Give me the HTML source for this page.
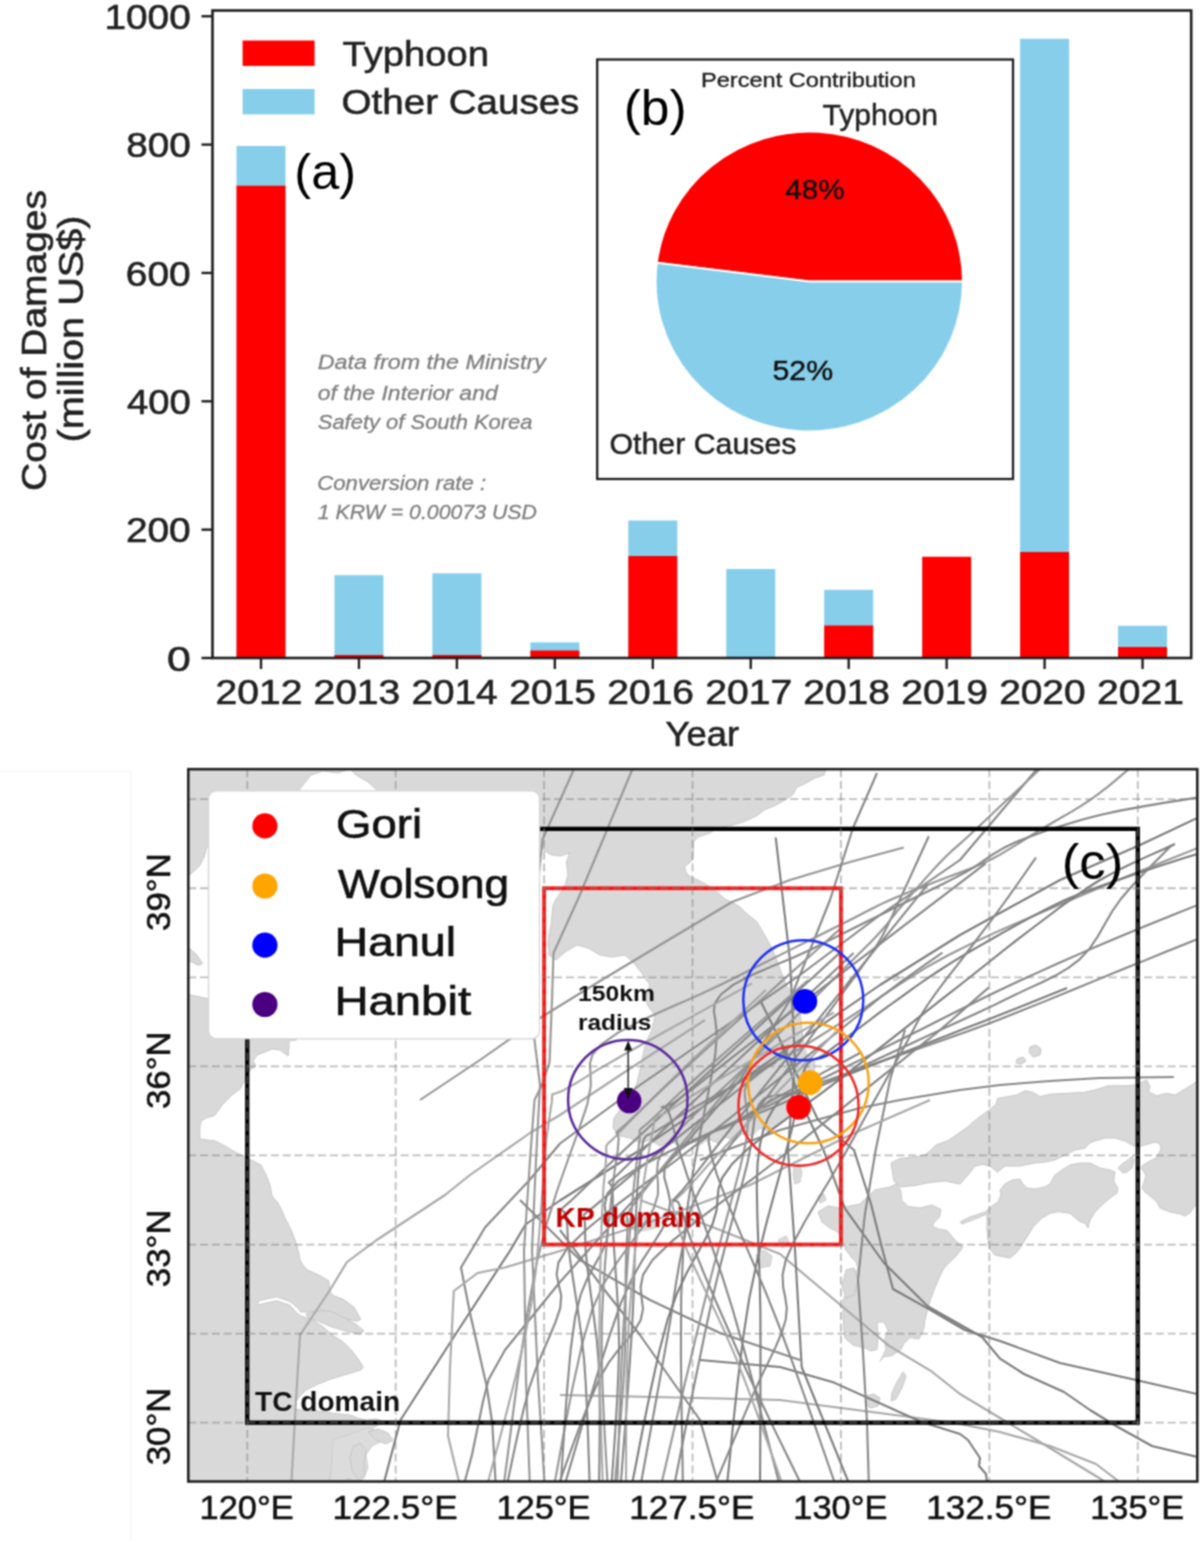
<!DOCTYPE html>
<html><head><meta charset="utf-8"><style>
html,body{margin:0;padding:0;background:#fff;}
svg{display:block;font-family:"Liberation Sans",sans-serif;}
</style></head><body>
<svg width="1200" height="1541" viewBox="0 0 1200 1541">
<defs><filter id="soft" filterUnits="userSpaceOnUse" x="0" y="0" width="1200" height="1541" color-interpolation-filters="sRGB"><feConvolveMatrix order="3" kernelMatrix="1 2 1 2 4 2 1 2 1" divisor="16" edgeMode="duplicate"/></filter></defs>
<g filter="url(#soft)">
<rect width="1200" height="1541" fill="#fff"/>
<rect x="236.50" y="146.00" width="49.0" height="512.00" fill="#87ceeb"/>
<rect x="236.50" y="185.70" width="49.0" height="472.30" fill="#ff0000"/>
<rect x="334.45" y="575.20" width="49.0" height="82.80" fill="#87ceeb"/>
<rect x="334.45" y="655.00" width="49.0" height="3.00" fill="#ff0000"/>
<rect x="432.40" y="573.30" width="49.0" height="84.70" fill="#87ceeb"/>
<rect x="432.40" y="655.00" width="49.0" height="3.00" fill="#ff0000"/>
<rect x="530.35" y="642.40" width="49.0" height="15.60" fill="#87ceeb"/>
<rect x="530.35" y="650.50" width="49.0" height="7.50" fill="#ff0000"/>
<rect x="628.30" y="520.50" width="49.0" height="137.50" fill="#87ceeb"/>
<rect x="628.30" y="556.00" width="49.0" height="102.00" fill="#ff0000"/>
<rect x="726.25" y="569.00" width="49.0" height="89.00" fill="#87ceeb"/>
<rect x="824.20" y="589.80" width="49.0" height="68.20" fill="#87ceeb"/>
<rect x="824.20" y="625.50" width="49.0" height="32.50" fill="#ff0000"/>
<rect x="922.15" y="556.75" width="49.0" height="101.25" fill="#ff0000"/>
<rect x="1020.10" y="38.75" width="49.0" height="619.25" fill="#87ceeb"/>
<rect x="1020.10" y="552.00" width="49.0" height="106.00" fill="#ff0000"/>
<rect x="1118.05" y="625.75" width="49.0" height="32.25" fill="#87ceeb"/>
<rect x="1118.05" y="647.00" width="49.0" height="11.00" fill="#ff0000"/>
<rect x="597.2" y="59.5" width="415.8" height="419.5" fill="#fff" stroke="#1e1e1e" stroke-width="2.3"/>
<rect x="212.5" y="10.5" width="978.70" height="647.50" fill="none" stroke="#1e1e1e" stroke-width="2.6"/>
<line x1="201.5" y1="658.00" x2="212.5" y2="658.00" stroke="#1e1e1e" stroke-width="2.4"/>
<text x="167.08" y="670.60" font-size="35.5" font-weight="normal" font-style="normal" fill="#222" stroke="#222" stroke-width="0.59" textLength="23.79" lengthAdjust="spacingAndGlyphs">0</text>
<line x1="201.5" y1="529.65" x2="212.5" y2="529.65" stroke="#1e1e1e" stroke-width="2.4"/>
<text x="125.90" y="542.25" font-size="35.5" font-weight="normal" font-style="normal" fill="#222" stroke="#222" stroke-width="0.59" textLength="64.82" lengthAdjust="spacingAndGlyphs">200</text>
<line x1="201.5" y1="401.30" x2="212.5" y2="401.30" stroke="#1e1e1e" stroke-width="2.4"/>
<text x="126.97" y="413.90" font-size="35.5" font-weight="normal" font-style="normal" fill="#222" stroke="#222" stroke-width="0.59" textLength="63.72" lengthAdjust="spacingAndGlyphs">400</text>
<line x1="201.5" y1="272.95" x2="212.5" y2="272.95" stroke="#1e1e1e" stroke-width="2.4"/>
<text x="125.88" y="285.55" font-size="35.5" font-weight="normal" font-style="normal" fill="#222" stroke="#222" stroke-width="0.59" textLength="64.84" lengthAdjust="spacingAndGlyphs">600</text>
<line x1="201.5" y1="144.60" x2="212.5" y2="144.60" stroke="#1e1e1e" stroke-width="2.4"/>
<text x="126.17" y="157.20" font-size="35.5" font-weight="normal" font-style="normal" fill="#222" stroke="#222" stroke-width="0.59" textLength="64.54" lengthAdjust="spacingAndGlyphs">800</text>
<line x1="201.5" y1="16.25" x2="212.5" y2="16.25" stroke="#1e1e1e" stroke-width="2.4"/>
<text x="104.45" y="28.85" font-size="35.5" font-weight="normal" font-style="normal" fill="#222" stroke="#222" stroke-width="0.59" textLength="86.27" lengthAdjust="spacingAndGlyphs">1000</text>
<line x1="261.00" y1="658.0" x2="261.00" y2="669" stroke="#1e1e1e" stroke-width="2.4"/>
<text x="215.53" y="703.80" font-size="35.5" font-weight="normal" font-style="normal" fill="#222" stroke="#222" stroke-width="0.59" textLength="86.93" lengthAdjust="spacingAndGlyphs">2012</text>
<line x1="358.95" y1="658.0" x2="358.95" y2="669" stroke="#1e1e1e" stroke-width="2.4"/>
<text x="313.49" y="703.80" font-size="35.5" font-weight="normal" font-style="normal" fill="#222" stroke="#222" stroke-width="0.59" textLength="86.67" lengthAdjust="spacingAndGlyphs">2013</text>
<line x1="456.90" y1="658.0" x2="456.90" y2="669" stroke="#1e1e1e" stroke-width="2.4"/>
<text x="411.45" y="703.80" font-size="35.5" font-weight="normal" font-style="normal" fill="#222" stroke="#222" stroke-width="0.59" textLength="86.08" lengthAdjust="spacingAndGlyphs">2014</text>
<line x1="554.85" y1="658.0" x2="554.85" y2="669" stroke="#1e1e1e" stroke-width="2.4"/>
<text x="509.39" y="703.80" font-size="35.5" font-weight="normal" font-style="normal" fill="#222" stroke="#222" stroke-width="0.59" textLength="86.59" lengthAdjust="spacingAndGlyphs">2015</text>
<line x1="652.80" y1="658.0" x2="652.80" y2="669" stroke="#1e1e1e" stroke-width="2.4"/>
<text x="607.34" y="703.80" font-size="35.5" font-weight="normal" font-style="normal" fill="#222" stroke="#222" stroke-width="0.59" textLength="86.67" lengthAdjust="spacingAndGlyphs">2016</text>
<line x1="750.75" y1="658.0" x2="750.75" y2="669" stroke="#1e1e1e" stroke-width="2.4"/>
<text x="705.28" y="703.80" font-size="35.5" font-weight="normal" font-style="normal" fill="#222" stroke="#222" stroke-width="0.59" textLength="86.93" lengthAdjust="spacingAndGlyphs">2017</text>
<line x1="848.70" y1="658.0" x2="848.70" y2="669" stroke="#1e1e1e" stroke-width="2.4"/>
<text x="803.24" y="703.80" font-size="35.5" font-weight="normal" font-style="normal" fill="#222" stroke="#222" stroke-width="0.59" textLength="86.65" lengthAdjust="spacingAndGlyphs">2018</text>
<line x1="946.65" y1="658.0" x2="946.65" y2="669" stroke="#1e1e1e" stroke-width="2.4"/>
<text x="901.19" y="703.80" font-size="35.5" font-weight="normal" font-style="normal" fill="#222" stroke="#222" stroke-width="0.59" textLength="86.81" lengthAdjust="spacingAndGlyphs">2019</text>
<line x1="1044.60" y1="658.0" x2="1044.60" y2="669" stroke="#1e1e1e" stroke-width="2.4"/>
<text x="999.15" y="703.80" font-size="35.5" font-weight="normal" font-style="normal" fill="#222" stroke="#222" stroke-width="0.59" textLength="86.47" lengthAdjust="spacingAndGlyphs">2020</text>
<line x1="1142.55" y1="658.0" x2="1142.55" y2="669" stroke="#1e1e1e" stroke-width="2.4"/>
<text x="1097.09" y="703.80" font-size="35.5" font-weight="normal" font-style="normal" fill="#222" stroke="#222" stroke-width="0.59" textLength="86.87" lengthAdjust="spacingAndGlyphs">2021</text>
<text x="665.43" y="745.50" font-size="35.5" font-weight="normal" font-style="normal" fill="#222" stroke="#222" stroke-width="0.59" textLength="73.64" lengthAdjust="spacingAndGlyphs">Year</text>
<text transform="translate(45.50,489.00) rotate(-90)" x="-1.98" y="0" font-size="35.5" font-weight="normal" fill="#222" stroke="#222" stroke-width="0.6" textLength="300.99" lengthAdjust="spacingAndGlyphs">Cost of Damages</text>
<text transform="translate(83.00,440.00) rotate(-90)" x="-2.46" y="0" font-size="35.5" font-weight="normal" fill="#222" stroke="#222" stroke-width="0.6" textLength="226.92" lengthAdjust="spacingAndGlyphs">(million US$)</text>
<rect x="242.6" y="40.5" width="72" height="25.4" fill="#ff0000"/>
<rect x="242.6" y="89.0" width="72" height="25.4" fill="#87ceeb"/>
<text x="342.56" y="66.30" font-size="35.5" font-weight="normal" font-style="normal" fill="#222" stroke="#222" stroke-width="0.59" textLength="146.39" lengthAdjust="spacingAndGlyphs">Typhoon</text>
<text x="341.57" y="113.60" font-size="35.5" font-weight="normal" font-style="normal" fill="#222" stroke="#222" stroke-width="0.59" textLength="237.82" lengthAdjust="spacingAndGlyphs">Other Causes</text>
<text x="294.37" y="188.80" font-size="50.5" font-weight="normal" font-style="normal" fill="#000" textLength="61.66" lengthAdjust="spacingAndGlyphs">(a)</text>
<text x="623.70" y="124.60" font-size="50.5" font-weight="normal" font-style="normal" fill="#000" textLength="62.99" lengthAdjust="spacingAndGlyphs">(b)</text>
<text x="317.68" y="369.30" font-size="20" font-weight="normal" font-style="italic" fill="#7f7f7f" stroke="#7f7f7f" stroke-width="0.3" textLength="228.14" lengthAdjust="spacingAndGlyphs">Data from the Ministry</text>
<text x="317.65" y="399.60" font-size="20" font-weight="normal" font-style="italic" fill="#7f7f7f" stroke="#7f7f7f" stroke-width="0.3" textLength="180.05" lengthAdjust="spacingAndGlyphs">of the Interior and</text>
<text x="317.78" y="428.80" font-size="20" font-weight="normal" font-style="italic" fill="#7f7f7f" stroke="#7f7f7f" stroke-width="0.3" textLength="214.77" lengthAdjust="spacingAndGlyphs">Safety of South Korea</text>
<text x="317.18" y="489.50" font-size="20" font-weight="normal" font-style="italic" fill="#7f7f7f" stroke="#7f7f7f" stroke-width="0.3" textLength="169.01" lengthAdjust="spacingAndGlyphs">Conversion rate :</text>
<text x="317.85" y="518.80" font-size="20" font-weight="normal" font-style="italic" fill="#7f7f7f" stroke="#7f7f7f" stroke-width="0.3" textLength="219.03" lengthAdjust="spacingAndGlyphs">1 KRW = 0.00073 USD</text>
<path d="M809.3,281.5 L963.00,281.50 A153.7,150.0 0 0 0 656.81,262.70 Z" fill="#ff0000" stroke="#fff" stroke-width="2" stroke-linejoin="round"/>
<path d="M809.3,281.5 L656.81,262.70 A153.7,150.0 0 1 0 963.00,281.50 Z" fill="#87ceeb" stroke="#fff" stroke-width="2" stroke-linejoin="round"/>
<text x="701.07" y="87.00" font-size="21" font-weight="normal" font-style="normal" fill="#222" stroke="#222" stroke-width="0.35" textLength="214.76" lengthAdjust="spacingAndGlyphs">Percent Contribution</text>
<text x="822.63" y="124.60" font-size="29" font-weight="normal" font-style="normal" fill="#222" stroke="#222" stroke-width="0.48" textLength="115.29" lengthAdjust="spacingAndGlyphs">Typhoon</text>
<text x="785.32" y="199.30" font-size="28" font-weight="normal" font-style="normal" fill="#111" stroke="#111" stroke-width="0.46" textLength="59.23" lengthAdjust="spacingAndGlyphs">48%</text>
<text x="772.49" y="380.00" font-size="28" font-weight="normal" font-style="normal" fill="#111" stroke="#111" stroke-width="0.46" textLength="60.59" lengthAdjust="spacingAndGlyphs">52%</text>
<text x="609.46" y="454.00" font-size="29" font-weight="normal" font-style="normal" fill="#222" stroke="#222" stroke-width="0.48" textLength="187.03" lengthAdjust="spacingAndGlyphs">Other Causes</text>
<line x1="131" y1="771.5" x2="131" y2="1541" stroke="#f3f3f3" stroke-width="1.2"/>
<line x1="0" y1="771.5" x2="131" y2="771.5" stroke="#f3f3f3" stroke-width="1.2"/>
<defs><clipPath id="mc"><rect x="188.3" y="769.2" width="1009.0" height="712.3"/></clipPath></defs>
<g clip-path="url(#mc)">
<path d="M150.0,700.0 L826.0,700.0 L826.0,769.0 L824.0,775.0 L815.0,778.0 L804.5,784.0 L797.0,787.0 L792.5,795.0 L785.0,800.0 L776.0,805.0 L764.0,810.0 L758.0,815.0 L752.0,818.0 L743.0,822.0 L732.5,825.0 L717.5,828.0 L710.0,833.0 L698.0,837.0 L693.5,842.0 L693.5,850.0 L692.7,860.0 L689.0,863.0 L684.5,867.0 L686.0,872.0 L689.0,876.0 L698.0,880.0 L707.0,885.0 L714.5,890.0 L725.0,899.0 L733.0,903.0 L740.0,907.0 L745.0,912.0 L751.0,917.0 L757.0,922.0 L764.0,934.0 L772.0,948.0 L779.0,966.0 L786.0,985.0 L793.0,994.0 L799.0,1003.0 L801.0,1020.0 L803.0,1040.0 L806.0,1053.0 L811.0,1058.0 L815.0,1063.0 L814.0,1072.0 L812.0,1083.0 L808.0,1093.0 L803.0,1101.0 L798.0,1110.0 L790.0,1116.0 L784.0,1121.0 L776.0,1126.0 L768.0,1131.0 L760.0,1128.0 L752.0,1136.0 L742.0,1134.0 L735.0,1141.0 L726.0,1137.0 L718.0,1143.0 L708.0,1139.0 L700.0,1145.0 L690.0,1139.0 L680.0,1146.0 L670.0,1141.0 L660.0,1146.0 L650.0,1140.0 L640.0,1143.0 L630.0,1138.0 L620.0,1136.0 L613.0,1128.0 L614.0,1118.0 L620.0,1110.0 L627.0,1104.0 L632.0,1094.0 L637.0,1083.0 L640.0,1070.0 L643.0,1055.0 L646.0,1042.0 L652.0,1030.0 L655.0,1015.0 L648.0,1006.0 L645.0,998.0 L650.0,985.0 L641.0,972.0 L633.0,962.0 L625.0,955.0 L612.0,957.0 L600.0,955.0 L588.0,948.0 L577.0,945.0 L565.0,952.0 L556.0,960.0 L549.0,955.0 L548.0,940.0 L551.0,925.0 L553.0,905.0 L556.0,899.0 L560.5,893.0 L565.0,885.0 L568.0,875.0 L566.5,862.0 L569.5,853.0 L560.0,856.0 L551.5,855.0 L544.0,850.7 L540.0,846.0 L520.0,820.0 L400.0,800.0 L377.0,790.0 L368.0,782.0 L356.0,775.0 L350.0,769.0 L338.0,773.0 L323.0,771.0 L311.0,775.0 L299.0,790.0 L260.0,800.0 L210.0,840.0 L206.4,848.7 L204.5,856.0 L199.6,866.0 L190.8,874.0 L150.0,880.0 Z" fill="#d9d9d9" stroke="#c6c6c6" stroke-width="1.0" stroke-linejoin="round"/>
<path d="M150.0,945.0 L189.0,948.0 L196.7,954.7 L202.5,963.4 L198.6,965.4 L190.8,961.5 L150.0,962.0 Z" fill="#d9d9d9" stroke="#c6c6c6" stroke-width="1.0" stroke-linejoin="round"/>
<path d="M150.0,994.0 L188.0,994.6 L200.0,997.0 L215.0,1000.0 L260.0,995.0 L330.0,990.0 L400.0,975.0 L420.0,985.0 L380.0,1005.0 L330.0,1025.0 L300.0,1036.0 L296.0,1040.0 L289.0,1041.0 L289.0,1048.0 L288.0,1056.0 L280.0,1050.0 L272.0,1049.0 L265.0,1052.0 L257.0,1055.0 L253.0,1061.0 L256.0,1066.0 L250.0,1070.0 L245.0,1080.0 L240.0,1089.0 L232.0,1095.0 L223.0,1104.0 L214.5,1115.6 L206.0,1118.0 L201.0,1121.0 L199.8,1127.0 L199.8,1139.0 L207.0,1140.0 L214.5,1140.7 L225.0,1146.0 L235.0,1152.0 L245.0,1157.0 L253.0,1161.0 L261.0,1165.0 L266.0,1175.0 L270.0,1185.0 L272.0,1196.0 L278.0,1203.0 L282.0,1211.0 L285.0,1218.0 L289.0,1226.0 L292.0,1232.0 L295.0,1240.0 L297.0,1246.0 L299.0,1254.0 L300.0,1260.0 L303.0,1265.0 L307.3,1270.0 L319.3,1275.3 L328.7,1280.7 L330.0,1291.0 L332.7,1295.3 L343.3,1299.3 L354.0,1307.3 L360.7,1319.3 L356.7,1321.3 L343.3,1318.0 L330.0,1312.7 L322.0,1310.0 L310.0,1312.0 L300.7,1312.0 L298.0,1308.0 L290.0,1301.5 L276.7,1296.7 L267.3,1298.7 L258.0,1301.0 L258.0,1305.0 L267.3,1302.7 L276.7,1300.7 L290.0,1305.3 L296.0,1312.0 L300.7,1316.0 L312.7,1320.0 L322.0,1326.0 L332.7,1335.3 L343.3,1342.0 L351.3,1350.0 L359.3,1360.7 L363.3,1367.3 L360.7,1370.0 L343.3,1375.3 L330.0,1379.3 L316.7,1384.7 L306.0,1390.0 L300.0,1396.0 L296.7,1400.0 L293.3,1408.3 L300.0,1410.0 L316.7,1410.8 L333.3,1413.3 L350.0,1415.0 L358.3,1418.3 L366.7,1420.0 L376.7,1419.0 L383.3,1421.7 L375.0,1426.7 L366.7,1433.3 L358.3,1440.0 L350.0,1445.0 L336.7,1450.0 L331.7,1456.7 L333.3,1466.7 L330.0,1475.0 L328.3,1485.0 L330.0,1520.0 L150.0,1520.0 Z" fill="#d9d9d9" stroke="#c6c6c6" stroke-width="1.0" stroke-linejoin="round"/>
<path d="M306.0,1314.0 L318.0,1311.0 L330.0,1311.0 L345.0,1318.0 L357.0,1325.0 L364.0,1331.0 L360.0,1334.0 L346.0,1331.0 L332.0,1327.0 L318.0,1321.0 L308.0,1318.0 Z" fill="#d9d9d9" stroke="#c6c6c6" stroke-width="1.0" stroke-linejoin="round"/>
<path d="M333.0,1440.0 L345.0,1436.0 L356.0,1432.0 L368.0,1428.0 L380.0,1432.0 L384.0,1440.0 L372.0,1446.0 L366.0,1455.0 L368.0,1468.0 L364.0,1478.0 L356.0,1486.0 L330.0,1490.0 Z" fill="#dcdcdc" stroke="#cfcfcf" stroke-width="1.0" stroke-linejoin="round"/>
<path d="M353.0,1447.0 L360.0,1443.0 L366.0,1450.0 L364.0,1462.0 L365.0,1475.0 L358.0,1480.0 L352.0,1470.0 L350.0,1458.0 Z" fill="#d9d9d9" stroke="#c6c6c6" stroke-width="1.0" stroke-linejoin="round"/>
<path d="M368.0,1432.0 L378.0,1429.0 L388.0,1433.0 L393.0,1440.0 L386.0,1444.0 L376.0,1440.0 Z" fill="#d9d9d9" stroke="#c6c6c6" stroke-width="1.0" stroke-linejoin="round"/>
<path d="M340.0,1488.0 L348.0,1478.0 L356.0,1484.0 L352.0,1495.0 Z" fill="#d9d9d9" stroke="#c6c6c6" stroke-width="1.0" stroke-linejoin="round"/>
<path d="M622.0,1222.0 L632.0,1217.0 L648.0,1217.0 L660.0,1221.0 L656.0,1228.0 L642.0,1231.0 L628.0,1229.0 Z" fill="#dadada" stroke="#cfcfcf" stroke-width="1.0" stroke-linejoin="round"/>
<path d="M894.0,1181.0 L892.5,1172.0 L891.0,1163.0 L900.0,1158.5 L915.0,1157.0 L924.0,1155.5 L930.0,1151.0 L936.0,1145.0 L948.0,1140.5 L957.0,1134.5 L967.5,1127.0 L978.0,1118.0 L988.5,1110.5 L996.0,1104.5 L997.5,1098.5 L1016.7,1095.0 L1025.0,1090.8 L1033.3,1092.5 L1040.0,1096.7 L1050.0,1094.2 L1066.7,1093.3 L1083.3,1092.5 L1095.0,1090.0 L1108.3,1085.8 L1125.0,1085.8 L1135.0,1085.0 L1146.7,1080.0 L1150.0,1086.7 L1148.3,1091.7 L1156.7,1095.8 L1166.7,1093.3 L1175.0,1095.0 L1183.3,1090.0 L1191.7,1085.0 L1197.0,1081.0 L1260.0,1060.0 L1260.0,1200.0 L1200.0,1200.0 L1195.0,1206.0 L1190.0,1213.0 L1185.0,1216.0 L1180.0,1214.0 L1170.0,1212.0 L1160.0,1208.0 L1157.0,1202.0 L1150.0,1196.0 L1145.0,1192.0 L1142.0,1188.0 L1144.0,1182.0 L1146.0,1176.0 L1144.0,1172.0 L1141.0,1168.0 L1143.0,1165.0 L1150.0,1161.0 L1156.0,1158.0 L1159.0,1153.0 L1161.0,1149.0 L1160.0,1144.0 L1155.0,1142.0 L1145.0,1145.0 L1138.0,1147.0 L1132.0,1145.0 L1125.0,1141.0 L1115.0,1138.0 L1105.0,1138.0 L1095.0,1141.0 L1090.0,1143.0 L1085.0,1148.0 L1075.0,1150.0 L1065.0,1155.0 L1055.0,1160.0 L1045.0,1162.0 L1035.0,1163.0 L1020.0,1166.0 L1005.0,1166.0 L997.5,1172.0 L990.0,1166.0 L982.5,1164.5 L975.0,1166.0 L970.5,1172.0 L960.0,1184.0 L945.0,1181.0 L930.0,1182.5 L915.0,1185.5 L900.0,1187.0 Z" fill="#d9d9d9" stroke="#c6c6c6" stroke-width="1.0" stroke-linejoin="round"/>
<path d="M1118.0,1168.0 L1122.0,1164.0 L1128.0,1160.0 L1132.0,1156.0 L1134.0,1160.0 L1132.0,1168.0 L1127.0,1172.0 L1123.0,1173.0 Z" fill="#d9d9d9" stroke="#c6c6c6" stroke-width="1.0" stroke-linejoin="round"/>
<path d="M960.0,1222.0 L970.0,1217.0 L985.0,1212.0 L992.0,1206.0 L998.0,1202.0 L1001.0,1195.0 L1000.0,1190.0 L1005.0,1184.0 L1012.0,1180.0 L1020.0,1179.0 L1023.0,1184.0 L1027.0,1188.0 L1035.0,1189.0 L1045.0,1187.0 L1050.0,1184.0 L1055.0,1175.0 L1062.0,1170.0 L1070.0,1165.0 L1080.0,1163.0 L1090.0,1163.0 L1100.0,1168.0 L1110.0,1170.0 L1115.0,1172.0 L1114.0,1178.0 L1114.0,1182.0 L1118.0,1188.0 L1117.0,1193.0 L1110.0,1198.0 L1102.0,1205.0 L1095.0,1212.0 L1090.0,1220.0 L1088.0,1228.0 L1085.0,1223.0 L1080.0,1221.7 L1070.0,1213.3 L1058.3,1211.7 L1050.0,1213.3 L1041.7,1218.3 L1033.3,1226.7 L1028.3,1235.0 L1025.0,1240.0 L1020.0,1248.0 L1016.0,1253.0 L1010.0,1258.0 L1000.0,1256.0 L995.0,1255.0 L990.0,1249.0 L988.0,1240.0 L987.0,1230.0 L987.0,1214.0 L975.0,1219.0 L962.0,1224.0 Z" fill="#d9d9d9" stroke="#c6c6c6" stroke-width="1.0" stroke-linejoin="round"/>
<path d="M896.0,1184.0 L900.5,1190.0 L902.0,1200.5 L908.0,1206.5 L920.0,1208.0 L932.0,1205.0 L941.0,1209.5 L939.5,1217.0 L935.0,1221.5 L932.0,1226.0 L938.0,1229.0 L947.0,1230.5 L955.0,1240.0 L963.0,1247.0 L957.0,1255.0 L950.0,1262.0 L944.0,1268.0 L939.5,1277.0 L935.0,1287.5 L930.5,1299.5 L927.5,1310.0 L925.0,1320.0 L923.5,1330.0 L919.0,1339.0 L910.0,1337.5 L904.0,1343.5 L901.0,1349.5 L892.0,1355.5 L883.0,1357.0 L880.0,1361.5 L886.0,1349.5 L884.5,1340.5 L888.0,1330.0 L884.0,1322.0 L877.0,1322.0 L878.0,1335.0 L877.0,1349.5 L871.0,1351.0 L865.0,1348.0 L853.0,1345.0 L845.0,1338.0 L844.0,1330.0 L843.0,1315.0 L843.0,1300.0 L848.0,1290.0 L852.0,1278.0 L858.0,1268.0 L856.0,1262.0 L852.0,1258.0 L846.0,1250.0 L842.0,1240.0 L838.0,1232.0 L830.0,1228.0 L822.0,1222.0 L818.0,1212.0 L828.0,1206.0 L840.0,1208.0 L850.0,1206.0 L860.0,1204.0 L868.0,1196.0 L875.0,1190.0 L890.0,1187.0 Z" fill="#d9d9d9" stroke="#c6c6c6" stroke-width="1.0" stroke-linejoin="round"/>
<path d="M846.0,1270.0 L854.0,1268.0 L858.0,1280.0 L854.0,1295.0 L846.0,1298.0 L842.0,1286.0 Z" fill="#d9d9d9" stroke="#c6c6c6" stroke-width="1.0" stroke-linejoin="round"/>
<path d="M756.0,1255.0 L764.0,1250.0 L772.0,1256.0 L770.0,1266.0 L760.0,1268.0 Z" fill="#dadada" stroke="#cccccc" stroke-width="1.0" stroke-linejoin="round"/>
<path d="M778.0,1240.0 L786.0,1236.0 L790.0,1244.0 L782.0,1248.0 Z" fill="#dadada" stroke="#cccccc" stroke-width="1.0" stroke-linejoin="round"/>
<path d="M794.0,1166.0 L799.0,1164.0 L802.0,1172.0 L800.0,1182.0 L795.0,1184.0 L793.0,1175.0 Z" fill="#dadada" stroke="#cccccc" stroke-width="1.0" stroke-linejoin="round"/>
<path d="M818.0,1196.0 L824.0,1194.0 L826.0,1200.0 L820.0,1203.0 Z" fill="#dadada" stroke="#cccccc" stroke-width="1.0" stroke-linejoin="round"/>
<path d="M903.0,1372.0 L906.0,1376.0 L902.0,1388.0 L896.0,1399.0 L891.0,1401.0 L892.0,1393.0 L897.0,1382.0 Z" fill="#d9d9d9" stroke="#c6c6c6" stroke-width="1.0" stroke-linejoin="round"/>
<path d="M866.0,1396.0 L874.0,1394.0 L880.0,1398.0 L878.0,1406.0 L870.0,1408.0 L865.0,1403.0 Z" fill="#d9d9d9" stroke="#c6c6c6" stroke-width="1.0" stroke-linejoin="round"/>
<path d="M1030.0,1047.0 L1036.0,1045.0 L1041.0,1049.0 L1040.0,1055.0 L1033.0,1057.0 L1029.0,1052.0 Z" fill="#d9d9d9" stroke="#c6c6c6" stroke-width="1.0" stroke-linejoin="round"/>
<path d="M1017.0,1059.0 L1023.0,1057.0 L1026.0,1061.0 L1021.0,1064.0 L1016.0,1063.0 Z" fill="#d9d9d9" stroke="#c6c6c6" stroke-width="1.0" stroke-linejoin="round"/>
<path d="M892.0,975.0 L897.0,974.0 L899.0,979.0 L894.0,981.0 Z" fill="#d9d9d9" stroke="#c6c6c6" stroke-width="1.0" stroke-linejoin="round"/>
<path d="M291.0,1490.0 L296.0,1400.0 L300.0,1335.0 L330.0,1290.0 L347.0,1262.0 L376.7,1240.0 L445.0,1195.0 L470.0,1175.0 L530.0,1133.0 L560.0,1115.0 L640.0,1062.0 L705.0,1020.0" fill="none" stroke="#a8a8a8" stroke-width="2.1" stroke-linejoin="round"/>
<path d="M420.0,1100.0 L480.0,1060.0 L540.0,1018.0 L600.0,981.0 L670.0,939.0 L732.0,902.0 L790.0,880.0 L850.0,862.0 L903.8,847.5" fill="none" stroke="#959595" stroke-width="2.1" stroke-linejoin="round"/>
<path d="M760.0,1000.0 L790.0,1060.0 L818.0,1120.0 L854.0,1150.0 L871.0,1204.0 L882.0,1248.0 L893.0,1289.0 L928.0,1308.7 L964.8,1330.0 L1000.0,1341.0 L1060.0,1363.0 L1136.0,1380.0 L1210.0,1397.0" fill="none" stroke="#7c7c7c" stroke-width="2.1" stroke-linejoin="round"/>
<path d="M780.0,1040.0 L800.0,1100.0 L823.5,1150.0 L845.0,1208.7 L884.0,1263.0 L928.0,1306.5 L982.0,1337.0 L1000.0,1358.7 L1024.0,1374.0 L1064.0,1392.0 L1090.0,1410.0 L1116.0,1426.0 L1152.0,1446.0 L1210.0,1460.0" fill="none" stroke="#7c7c7c" stroke-width="2.1" stroke-linejoin="round"/>
<path d="M640.0,1200.0 L720.0,1230.0 L780.0,1254.0 L845.0,1308.7 L888.7,1345.6 L932.0,1371.7 L960.0,1394.0 L1000.0,1418.0 L1040.0,1442.0 L1104.0,1481.0 L1110.0,1490.0" fill="none" stroke="#a8a8a8" stroke-width="2.1" stroke-linejoin="round"/>
<path d="M560.0,1395.0 L700.0,1398.0 L780.0,1400.0 L910.0,1417.0 L960.0,1424.0 L1000.0,1432.0 L1050.0,1446.0 L1096.0,1464.0 L1130.0,1490.0" fill="none" stroke="#a8a8a8" stroke-width="2.1" stroke-linejoin="round"/>
<path d="M700.0,1360.0 L780.0,1367.0 L834.0,1382.6 L921.0,1421.7 L960.0,1434.0 L968.0,1440.0 L980.0,1458.0 L979.0,1466.0 L986.0,1474.0 L988.0,1490.0" fill="none" stroke="#7c7c7c" stroke-width="2.1" stroke-linejoin="round"/>
<path d="M869.0,1490.0 L867.0,1421.7 L862.6,1345.6 L858.0,1280.0 L864.8,1215.0 L875.7,1150.0 L890.0,1080.0 L905.0,1030.0" fill="none" stroke="#878787" stroke-width="2.1" stroke-linejoin="round"/>
<path d="M382.0,1490.0 L400.5,1420.0 L457.0,1332.0 L510.5,1250.0 L525.5,1224.5 L560.0,1200.5 L640.0,1150.0 L720.0,1095.0 L800.0,1040.0 L880.0,985.0 L960.0,935.0 L1060.0,880.0 L1140.0,845.0 L1210.0,812.0" fill="none" stroke="#7c7c7c" stroke-width="2.1" stroke-linejoin="round"/>
<path d="M496.0,1490.0 L492.3,1423.5 L486.8,1386.8 L470.0,1313.0 L461.0,1267.5 L477.6,1240.0 L485.0,1227.5 L530.0,1179.5 L560.0,1143.5 L640.0,1085.0 L720.0,1030.0 L800.0,975.0 L880.0,915.0 L960.0,860.0 L1037.0,769.0 L1050.0,750.0" fill="none" stroke="#878787" stroke-width="2.1" stroke-linejoin="round"/>
<path d="M461.0,1490.0 L448.0,1436.0 L450.0,1368.0 L453.8,1291.0 L477.6,1273.0 L505.0,1267.5 L560.0,1251.0 L650.0,1222.0 L750.0,1185.0 L850.0,1135.0 L930.0,1100.0" fill="none" stroke="#a8a8a8" stroke-width="2.1" stroke-linejoin="round"/>
<path d="M462.5,1490.0 L472.0,1454.7 L483.0,1401.5 L488.6,1379.4 L505.0,1350.0 L560.0,1282.0 L620.0,1215.0 L680.0,1150.0 L740.0,1080.0 L790.0,1000.0 L830.0,900.0 L853.0,828.0 L877.0,773.0" fill="none" stroke="#878787" stroke-width="2.1" stroke-linejoin="round"/>
<path d="M530.0,1490.0 L526.0,1380.0 L524.0,1250.0 L530.0,1160.0 L534.5,1100.0 L542.0,1085.0 L549.5,1062.5 L552.0,1000.0 L553.5,953.0 L578.5,898.0 L632.5,769.0 L640.0,750.0" fill="none" stroke="#959595" stroke-width="2.1" stroke-linejoin="round"/>
<path d="M545.0,1490.0 L538.0,1380.0 L532.0,1250.0 L536.0,1160.0 L540.0,1085.0 L534.5,1040.0 L530.0,960.0 L542.5,839.5 L574.0,769.0 L580.0,750.0" fill="none" stroke="#959595" stroke-width="2.1" stroke-linejoin="round"/>
<path d="M775.7,837.5 L790.0,960.0 L795.0,1060.0 L788.0,1150.0 L795.0,1250.0 L801.7,1367.0 L851.7,1490.0" fill="none" stroke="#7c7c7c" stroke-width="2.1" stroke-linejoin="round"/>
<path d="M700.0,1160.0 L780.0,1130.0 L860.0,1108.0 L900.0,1100.0 L960.0,1090.0 L1000.0,1085.0 L1050.0,1081.0 L1100.0,1078.0 L1173.8,1077.0" fill="none" stroke="#878787" stroke-width="2.1" stroke-linejoin="round"/>
<path d="M520.0,1200.0 L560.0,1240.0 L580.0,1260.0 L650.0,1300.0 L720.0,1333.0 L800.0,1360.0" fill="none" stroke="#878787" stroke-width="2.1" stroke-linejoin="round"/>
<path d="M560.0,1230.0 L603.0,1288.0 L640.0,1335.0 L673.0,1382.0 L700.0,1420.0 L720.0,1490.0" fill="none" stroke="#878787" stroke-width="2.1" stroke-linejoin="round"/>
<path d="M672.5,1494.0 L678.0,1466.5 L685.8,1427.0 L694.9,1381.8 L704.1,1337.0 L712.3,1298.7 L720.0,1266.7 L727.7,1236.9 L735.1,1209.7 L741.7,1185.3 L747.2,1164.1 L750.7,1146.6 L752.7,1132.4 L754.2,1121.0 L756.0,1111.8 L759.2,1104.1 L764.1,1098.8 L770.1,1096.3 L776.6,1095.4 L783.2,1094.8 L789.6,1093.5 L795.2,1091.5 L800.2,1089.7 L805.5,1087.9 L811.8,1085.7 L820.0,1082.8 L829.8,1079.4 L840.7,1075.5 L853.0,1071.2 L867.0,1066.3 L883.0,1060.7 L901.3,1054.4 L921.8,1047.4 L943.8,1039.8 L967.1,1031.6 L991.0,1022.7 L1016.8,1012.6 L1044.7,1001.4 L1073.0,989.7 L1100.0,978.6 L1124.0,968.8 L1145.6,960.1 L1165.9,951.8 L1184.0,944.5 L1199.1,938.4 L1210.0,934.0" fill="none" stroke="#878787" stroke-width="2.1" stroke-linejoin="round"/>
<path d="M760.0,1494.0 L760.1,1469.0 L760.3,1433.4 L760.4,1392.2 L760.5,1350.6 L760.4,1313.6 L759.7,1280.1 L758.4,1246.9 L757.3,1215.3 L756.8,1186.9 L757.6,1163.1 L760.0,1144.5 L763.3,1130.3 L767.5,1119.3 L772.3,1110.6 L777.3,1103.1 L782.9,1097.5 L789.0,1094.6 L795.6,1093.3 L802.2,1092.3 L808.7,1090.5 L814.2,1088.3 L819.1,1086.4 L824.3,1084.3 L830.9,1081.6 L840.0,1078.0 L852.1,1073.1 L866.5,1067.4 L882.4,1061.0 L898.9,1054.4 L915.0,1048.0 L931.1,1041.7 L947.9,1035.2 L964.7,1028.6 L981.3,1022.2 L997.0,1016.0 L1012.9,1009.7 L1029.2,1003.2 L1044.6,997.0 L1057.7,991.7 L1067.0,988.0" fill="none" stroke="#7c7c7c" stroke-width="2.1" stroke-linejoin="round"/>
<path d="M562.0,1494.0 L570.1,1466.6 L581.7,1427.0 L595.0,1382.1 L608.5,1338.9 L620.4,1304.3 L631.4,1279.6 L642.5,1260.1 L653.0,1244.0 L661.9,1229.6 L668.5,1215.3 L670.2,1201.3 L667.5,1189.0 L664.3,1177.6 L664.5,1166.6 L672.0,1155.3 L688.8,1143.7 L712.1,1132.3 L739.3,1121.0 L767.3,1109.8 L793.5,1098.5 L818.2,1086.9 L843.4,1075.2 L868.3,1063.5 L892.4,1052.3 L915.0,1041.7 L936.1,1031.9 L956.1,1022.7 L975.1,1014.0 L993.0,1005.6 L1010.0,997.3 L1026.0,989.6 L1041.1,982.7 L1055.1,975.8 L1068.0,968.2 L1079.7,959.3 L1089.6,948.6 L1097.7,936.5 L1105.0,923.7 L1112.4,911.0 L1120.8,899.0 L1131.1,887.0 L1142.8,874.5 L1154.4,862.6 L1164.5,852.5 L1171.5,845.3" fill="none" stroke="#878787" stroke-width="2.1" stroke-linejoin="round"/>
<path d="M659.0,1494.0 L665.3,1467.2 L674.2,1429.1 L684.5,1385.1 L695.1,1340.6 L704.7,1301.0 L713.9,1265.5 L723.4,1230.2 L732.5,1196.7 L740.3,1166.8 L746.0,1141.8 L748.0,1123.0 L747.0,1109.3 L745.2,1099.1 L744.6,1090.5 L747.5,1081.8 L754.7,1073.5 L764.7,1066.7 L776.4,1060.8 L788.4,1055.0 L799.6,1048.9 L809.3,1042.7 L818.4,1037.0 L827.8,1031.1 L838.5,1024.3 L851.7,1016.0 L867.5,1005.7 L885.1,993.8 L904.4,981.1 L925.0,968.2 L946.7,956.0 L969.8,944.4 L994.5,932.9 L1020.2,921.6 L1046.6,910.3 L1073.0,899.0 L1101.9,886.8 L1133.6,873.8 L1164.6,861.3 L1191.2,850.6 L1210.0,843.0" fill="none" stroke="#959595" stroke-width="2.1" stroke-linejoin="round"/>
<path d="M726.0,1494.0 L728.9,1466.9 L732.7,1428.5 L737.5,1383.9 L743.0,1338.7 L749.3,1298.1 L757.1,1260.8 L766.4,1223.3 L776.1,1187.5 L785.0,1155.5 L791.9,1129.1 L796.2,1109.4 L798.9,1095.0 L800.6,1084.5 L802.2,1076.3 L804.6,1069.1 L807.8,1063.4 L811.3,1060.4 L815.0,1058.9 L818.7,1057.7 L822.3,1055.8 L825.3,1053.5 L827.8,1051.6 L830.6,1049.6 L834.4,1046.7 L840.0,1042.5 L847.9,1036.5 L857.7,1029.1 L868.5,1021.0 L879.5,1012.7 L890.0,1005.0 L900.0,997.8 L910.0,990.6 L920.0,983.5 L930.0,976.6 L940.0,970.0 L949.6,963.8 L958.8,958.1 L968.2,952.5 L978.4,946.6 L990.0,940.0 L1003.4,932.4 L1018.2,924.1 L1033.8,915.6 L1049.6,907.4 L1065.0,900.0 L1080.1,893.6 L1095.2,887.9 L1110.4,882.5 L1125.3,877.5 L1140.0,872.5 L1155.4,867.3 L1171.7,862.1 L1187.3,857.1 L1200.6,853.0 L1210.0,850.0" fill="none" stroke="#7c7c7c" stroke-width="2.1" stroke-linejoin="round"/>
<path d="M505.0,1494.0 L508.2,1479.1 L512.7,1457.8 L518.0,1433.3 L523.8,1408.8 L529.4,1387.5 L535.6,1369.6 L542.4,1352.8 L549.3,1337.0 L555.5,1322.1 L560.3,1307.8 L561.2,1295.3 L558.7,1284.8 L556.6,1274.4 L558.4,1262.6 L567.7,1247.8 L586.7,1229.2 L612.9,1207.8 L643.2,1184.8 L674.6,1161.5 L703.9,1138.9 L732.5,1116.0 L762.5,1092.0 L791.7,1068.6 L818.3,1047.4 L840.0,1030.0 L855.5,1017.5 L866.1,1008.9 L874.0,1002.5 L881.2,996.7 L890.0,990.0 L901.2,981.7 L913.3,973.0 L925.2,964.7 L935.3,957.6 L942.5,952.5" fill="none" stroke="#878787" stroke-width="2.1" stroke-linejoin="round"/>
<path d="M555.0,1494.0 L561.2,1477.3 L569.9,1453.2 L580.0,1425.8 L590.4,1399.3 L599.8,1378.0 L608.7,1362.7 L617.8,1350.7 L626.6,1340.5 L634.4,1330.8 L640.7,1320.0 L643.0,1308.9 L641.7,1298.3 L640.6,1287.3 L643.0,1274.9 L652.5,1260.0 L671.1,1241.9 L696.4,1221.2 L725.5,1199.2 L755.6,1176.7 L783.8,1155.0 L811.7,1132.6 L841.4,1108.9 L870.1,1085.9 L895.5,1065.6 L915.0,1050.0 L926.4,1040.9 L931.5,1037.0 L933.4,1035.5 L935.2,1034.1 L940.0,1030.0 L949.0,1022.3 L960.1,1012.6 L971.6,1002.5 L981.7,993.6 L988.8,987.5" fill="none" stroke="#878787" stroke-width="2.1" stroke-linejoin="round"/>
<path d="M711.0,1494.0 L717.0,1479.7 L725.7,1459.2 L735.6,1435.6 L745.5,1412.3 L754.1,1392.2 L761.7,1375.6 L769.1,1360.6 L775.8,1346.6 L781.5,1333.2 L785.7,1320.0 L786.8,1307.9 L785.2,1297.3 L783.1,1286.7 L782.6,1274.7 L785.8,1260.0 L793.8,1241.9 L805.0,1221.2 L818.0,1199.2 L831.6,1176.7 L844.2,1155.0 L856.4,1133.0 L869.1,1110.1 L881.6,1087.7 L893.0,1067.2 L902.5,1050.0 L909.4,1037.2 L914.3,1027.9 L918.2,1020.5 L922.2,1013.4 L927.5,1005.0 L934.2,995.3 L941.6,985.4 L949.4,975.2 L957.3,965.1 L965.0,955.0 L972.6,945.0 L980.2,934.9 L987.8,924.8 L995.3,914.8 L1002.5,905.0 L1010.0,894.6 L1017.8,883.5 L1025.2,873.0 L1031.5,863.9 L1036.0,857.5" fill="none" stroke="#878787" stroke-width="2.1" stroke-linejoin="round"/>
<path d="M639.0,1494.0 L643.0,1472.3 L648.7,1441.0 L655.2,1405.3 L661.5,1370.4 L666.7,1341.3 L670.6,1318.5 L673.7,1298.5 L676.4,1280.8 L679.2,1264.6 L682.2,1249.2 L684.8,1235.8 L686.6,1224.8 L688.9,1214.5 L693.0,1203.2 L700.1,1189.2 L711.1,1171.8 L725.2,1152.2 L741.0,1131.3 L757.2,1110.2 L772.6,1089.6 L787.9,1068.5 L804.1,1046.3 L819.8,1024.6 L833.9,1005.3 L845.0,990.0 L852.4,979.8 L857.0,973.6 L859.9,969.7 L862.2,966.5 L865.0,962.5 L868.3,957.8 L871.4,953.5 L874.2,949.3 L877.1,944.9 L880.0,940.0 L882.7,935.2 L885.1,930.6 L887.6,925.5 L890.8,918.9 L895.0,910.0 L901.1,896.9 L908.8,880.1 L916.8,862.5 L923.9,847.0 L928.8,836.2" fill="none" stroke="#878787" stroke-width="2.1" stroke-linejoin="round"/>
<path d="M552.5,1494.0 L557.5,1467.6 L564.4,1429.6 L572.8,1386.4 L582.1,1344.3 L592.1,1309.8 L603.8,1283.6 L617.7,1261.3 L631.8,1242.0 L644.4,1224.6 L653.8,1208.3 L658.0,1194.1 L658.0,1182.7 L656.9,1172.3 L658.0,1161.4 L664.2,1148.3 L676.8,1132.5 L693.8,1115.2 L713.2,1096.9 L733.3,1078.4 L752.1,1060.4 L770.5,1042.0 L789.7,1022.8 L808.5,1004.0 L825.6,986.9 L840.0,972.5 L850.9,961.7 L859.2,953.5 L865.8,947.0 L871.6,941.2 L877.5,935.0 L883.1,928.7 L887.8,923.1 L892.2,917.5 L896.9,911.7 L902.5,905.0 L909.2,897.1 L916.7,888.4 L924.6,879.4 L932.5,870.6 L940.0,862.5 L946.7,855.8 L952.7,850.1 L959.0,844.6 L966.1,838.2 L975.0,830.0 L986.8,819.0 L1001.0,805.6 L1015.8,791.7 L1029.4,779.0 L1040.0,769.0 L1047.2,762.2 L1052.2,757.5 L1055.6,754.2 L1058.0,751.9 L1060.0,750.0" fill="none" stroke="#959595" stroke-width="2.1" stroke-linejoin="round"/>
<path d="M502.5,1494.0 L506.9,1461.5 L512.8,1415.0 L520.0,1361.7 L528.1,1308.8 L536.5,1263.6 L546.1,1225.6 L557.3,1190.0 L568.8,1157.5 L579.2,1128.7 L587.3,1104.3 L590.8,1085.9 L590.5,1073.1 L589.9,1063.5 L592.4,1054.7 L601.4,1044.3 L618.5,1032.4 L641.5,1020.4 L667.9,1008.5 L695.1,996.6 L720.7,984.7 L745.7,972.2 L771.7,959.1 L797.3,946.4 L820.6,934.7 L840.0,925.0 L854.4,917.7 L865.0,912.3 L873.3,908.0 L881.1,904.1 L890.0,900.0 L900.0,895.7 L910.0,891.6 L920.0,887.8 L930.0,883.9 L940.0,880.0 L950.0,876.2 L960.0,872.5 L970.0,868.7 L980.0,864.6 L990.0,860.0 L1000.0,854.6 L1010.0,848.7 L1020.0,842.5 L1030.0,836.2 L1040.0,830.0 L1050.2,824.0 L1060.5,818.0 L1070.8,812.1 L1080.7,806.1 L1090.0,800.0 L1098.8,793.7 L1107.3,787.1 L1115.2,780.6 L1122.5,774.4 L1129.0,769.0 L1134.7,764.1 L1139.7,759.6 L1144.0,755.7 L1147.4,752.4 L1150.0,750.0" fill="none" stroke="#959595" stroke-width="2.1" stroke-linejoin="round"/>
<path d="M683.0,1494.0 L682.5,1459.5 L681.6,1410.3 L680.9,1353.6 L681.2,1296.7 L683.3,1246.9 L688.1,1202.8 L695.1,1159.6 L702.9,1119.3 L710.1,1083.7 L715.3,1054.5 L716.8,1033.8 L715.4,1020.3 L713.9,1011.1 L714.8,1003.4 L720.9,994.5 L733.5,984.6 L750.7,975.5 L770.6,966.9 L791.2,958.5 L810.5,949.8 L828.8,940.6 L847.5,931.3 L866.0,922.0 L883.7,913.2 L900.0,905.0 L914.8,897.7 L928.5,891.0 L941.3,884.7 L953.4,878.6 L965.0,872.5 L975.4,866.3 L984.4,860.2 L993.2,854.2 L1003.0,848.3 L1015.0,842.5 L1029.6,836.7 L1045.9,830.8 L1063.5,825.2 L1081.7,819.8 L1100.0,815.0 L1120.0,810.6 L1142.0,806.6 L1163.7,802.9 L1182.8,799.9 L1197.0,797.6 L1205.2,796.2 L1208.9,795.7 L1209.8,795.8 L1209.6,796.0 L1210.0,796.0" fill="none" stroke="#878787" stroke-width="2.1" stroke-linejoin="round"/>
<path d="M630.0,1494.0 L635.1,1468.8 L642.1,1432.5 L650.5,1391.1 L659.3,1351.0 L668.0,1318.3 L676.9,1293.7 L686.5,1273.2 L696.2,1255.5 L705.1,1239.6 L712.5,1224.3 L716.5,1210.6 L717.5,1199.3 L718.5,1188.8 L722.3,1177.7 L731.8,1164.3 L748.5,1148.3 L770.6,1130.6 L795.7,1111.9 L821.6,1093.1 L845.9,1074.7 L869.4,1056.2 L893.7,1037.1 L917.5,1018.4 L940.0,1000.7 L960.0,985.0 L976.8,971.7 L991.2,960.3 L1004.1,950.0 L1016.7,940.1 L1030.0,930.0 L1043.9,919.5 L1057.8,909.0 L1071.6,898.8 L1085.7,889.0 L1100.0,880.0 L1115.9,871.3 L1133.2,862.9 L1150.2,855.1 L1164.7,848.7 L1175.0,844.0" fill="none" stroke="#7c7c7c" stroke-width="2.1" stroke-linejoin="round"/>
<path d="M560.0,1494.0 L561.8,1468.3 L564.2,1431.0 L567.2,1388.8 L570.8,1348.5 L575.2,1316.6 L580.7,1294.7 L587.5,1278.2 L594.7,1265.1 L601.3,1253.3 L606.6,1240.8 L608.0,1228.0 L606.1,1216.4 L604.7,1205.1 L607.5,1193.5 L618.5,1180.8 L639.7,1166.7 L668.8,1151.7 L702.3,1136.3 L736.9,1120.7 L769.2,1105.4 L800.5,1089.7 L832.9,1073.5 L864.8,1057.6 L894.4,1042.8 L920.0,1030.0 L940.2,1019.8 L956.1,1011.7 L970.0,1004.7 L983.9,997.8 L1000.0,990.0 L1018.6,981.3 L1038.1,972.4 L1058.3,963.2 L1079.0,954.1 L1100.0,945.0 L1123.1,935.3 L1148.6,924.8 L1173.4,914.8 L1194.9,906.1 L1210.0,900.0" fill="none" stroke="#878787" stroke-width="2.1" stroke-linejoin="round"/>
<path d="M485.0,1494.0 L490.3,1473.4 L498.0,1444.9 L506.9,1411.2 L516.1,1374.8 L524.5,1338.5 L531.1,1304.8 L535.7,1271.4 L539.1,1235.8 L541.7,1200.3 L544.0,1166.9 L546.5,1138.0 L549.7,1115.5 L551.8,1101.9 L552.1,1095.8 L552.5,1094.0 L555.2,1093.5 L562.1,1091.1 L575.2,1083.6 L597.9,1069.7 L629.4,1051.5 L665.1,1031.5 L700.5,1011.9 L730.9,995.0 L751.9,983.3" fill="none" stroke="#a8a8a8" stroke-width="2.1" stroke-linejoin="round"/>
<path d="M590.0,1494.0 L589.5,1479.3 L588.8,1458.9 L588.0,1434.7 L587.0,1408.7 L585.7,1382.7 L584.0,1358.5 L581.3,1334.8 L577.8,1309.8 L573.9,1284.7 L570.3,1261.0 L567.9,1240.0 L567.1,1223.1 L565.6,1213.4 L562.5,1210.4 L560.4,1210.1 L562.0,1208.5 L570.2,1201.4 L587.5,1184.9 L619.2,1154.7 L664.1,1113.1 L715.4,1066.0 L766.5,1019.5 L810.6,979.5 L840.8,951.9" fill="none" stroke="#878787" stroke-width="2.1" stroke-linejoin="round"/>
<path d="M599.0,1494.0 L599.1,1479.8 L599.4,1460.1 L599.7,1436.7 L599.8,1411.6 L599.5,1386.5 L598.7,1363.1 L596.8,1340.2 L593.8,1316.0 L590.5,1291.8 L587.5,1268.9 L585.5,1248.6 L585.1,1232.3 L584.9,1222.0 L583.9,1217.1 L583.9,1214.8 L586.6,1212.4 L593.7,1206.9 L606.9,1195.6 L630.0,1176.1 L662.2,1150.0 L698.8,1120.9 L735.1,1092.3 L766.4,1067.8 L787.9,1050.8" fill="none" stroke="#878787" stroke-width="2.1" stroke-linejoin="round"/>
<path d="M603.0,1494.0 L602.5,1476.2 L601.7,1451.6 L600.8,1422.4 L600.0,1391.0 L599.5,1359.6 L599.4,1330.4 L599.7,1301.7 L600.2,1271.3 L601.0,1240.9 L602.1,1212.2 L603.5,1187.0 L605.4,1166.9 L606.4,1154.2 L606.2,1148.1 L606.4,1145.4 L608.4,1143.1 L613.9,1138.1 L624.3,1127.2 L642.4,1108.4 L667.6,1083.6 L696.2,1056.1 L724.6,1029.2 L749.0,1006.0 L765.8,990.0" fill="none" stroke="#a8a8a8" stroke-width="2.1" stroke-linejoin="round"/>
<path d="M608.0,1494.0 L607.1,1475.3 L605.6,1449.5 L603.9,1419.0 L602.5,1386.0 L601.7,1353.0 L601.8,1322.5 L603.2,1292.3 L605.3,1260.4 L608.1,1228.4 L611.3,1198.2 L614.5,1171.8 L617.7,1150.9 L618.7,1138.5 L617.4,1133.7 L616.3,1132.5 L617.7,1131.2 L624.1,1125.9 L638.0,1112.7 L663.4,1088.4 L699.2,1055.6 L739.9,1018.7 L780.4,982.4 L815.3,951.2 L839.3,929.6" fill="none" stroke="#959595" stroke-width="2.1" stroke-linejoin="round"/>
<path d="M611.0,1494.0 L612.0,1477.9 L613.6,1455.7 L615.4,1429.3 L617.1,1400.9 L618.4,1372.5 L619.1,1346.2 L618.5,1320.2 L617.1,1292.8 L615.2,1265.4 L613.5,1239.5 L612.5,1216.6 L612.8,1198.3 L612.3,1187.5 L610.1,1183.6 L608.7,1182.7 L610.3,1181.0 L617.6,1174.7 L632.9,1159.8 L660.6,1132.6 L699.8,1095.6 L744.5,1053.9 L789.0,1012.8 L827.3,977.4 L853.6,952.9" fill="none" stroke="#878787" stroke-width="2.1" stroke-linejoin="round"/>
<path d="M614.0,1494.0 L615.2,1479.9 L617.0,1460.3 L619.1,1437.2 L621.2,1412.2 L623.1,1387.2 L624.5,1364.1 L625.2,1341.4 L625.5,1317.5 L625.6,1293.6 L625.7,1270.9 L626.2,1250.7 L627.3,1234.1 L627.8,1223.4 L627.1,1218.1 L626.8,1215.2 L628.4,1211.8 L633.3,1205.0 L643.1,1192.0 L660.4,1169.8 L684.7,1140.4 L712.3,1107.5 L739.7,1075.3 L763.3,1047.6 L779.6,1028.4" fill="none" stroke="#959595" stroke-width="2.1" stroke-linejoin="round"/>
<path d="M617.0,1494.0 L617.6,1475.4 L618.4,1449.6 L619.4,1419.1 L620.6,1386.2 L622.0,1353.3 L623.7,1322.8 L625.6,1292.7 L627.7,1260.8 L630.1,1228.9 L632.6,1198.8 L635.3,1172.5 L638.2,1151.6 L639.7,1138.6 L639.7,1132.5 L639.8,1130.0 L641.8,1128.1 L647.4,1123.5 L658.3,1113.2 L677.5,1095.0 L704.2,1070.9 L734.4,1044.3 L764.4,1018.2 L790.2,995.8 L808.0,980.2" fill="none" stroke="#959595" stroke-width="2.1" stroke-linejoin="round"/>
<path d="M620.0,1494.0 L621.4,1475.8 L623.3,1450.6 L625.6,1420.7 L628.0,1388.5 L630.2,1356.4 L632.2,1326.5 L633.5,1297.0 L634.5,1265.7 L635.4,1234.4 L636.4,1204.9 L637.9,1179.2 L640.2,1159.0 L642.3,1146.1 L643.9,1139.1 L646.0,1135.9 L649.5,1134.2 L655.4,1131.6 L664.7,1125.8 L679.6,1116.2 L699.6,1104.5 L722.0,1091.9 L744.1,1079.8 L763.1,1069.4 L776.2,1062.1" fill="none" stroke="#878787" stroke-width="2.1" stroke-linejoin="round"/>
<path d="M626.0,1494.0 L626.1,1474.7 L626.1,1448.0 L626.2,1416.3 L626.6,1382.2 L627.6,1348.1 L629.2,1316.5 L631.8,1285.2 L635.1,1251.9 L638.9,1218.7 L643.0,1187.4 L647.2,1160.1 L651.2,1138.9 L653.7,1125.8 L654.4,1119.5 L655.2,1117.3 L657.9,1116.2 L664.2,1113.5 L676.1,1106.2 L696.5,1093.0 L724.7,1076.0 L756.5,1057.3 L788.0,1039.0 L815.1,1023.4 L833.8,1012.5" fill="none" stroke="#a8a8a8" stroke-width="2.1" stroke-linejoin="round"/>
<path d="M782.0,1494.0 L776.7,1473.8 L769.5,1445.9 L760.9,1412.8 L751.5,1377.1 L741.8,1341.4 L732.3,1308.3 L722.0,1275.6 L710.0,1240.8 L697.7,1206.1 L686.5,1173.4 L677.5,1144.9 L672.2,1122.6 L668.1,1110.2 L663.7,1106.6 L661.7,1107.2 L664.5,1107.3 L674.7,1102.2 L695.0,1087.1 L731.3,1058.1 L782.8,1018.2 L841.8,973.1 L900.4,928.4 L951.0,889.9 L985.7,863.4" fill="none" stroke="#878787" stroke-width="2.1" stroke-linejoin="round"/>
<path d="M786.0,1494.0 L780.6,1479.2 L773.3,1458.6 L764.6,1434.3 L755.1,1408.1 L745.3,1381.9 L735.8,1357.6 L725.6,1333.8 L713.9,1308.6 L702.0,1283.4 L691.0,1259.6 L682.1,1238.4 L676.6,1221.2 L673.7,1210.2 L672.2,1204.6 L672.9,1201.7 L676.4,1198.6 L683.3,1192.5 L694.4,1180.6 L712.4,1160.3 L737.6,1133.5 L766.3,1103.6 L794.6,1074.4 L819.1,1049.2 L835.9,1031.8" fill="none" stroke="#a8a8a8" stroke-width="2.1" stroke-linejoin="round"/>
<path d="M806.0,1494.0 L798.5,1478.7 L788.1,1457.5 L775.8,1432.4 L762.8,1405.3 L750.0,1378.3 L738.6,1353.2 L727.8,1328.5 L716.4,1302.5 L705.3,1276.6 L695.3,1251.9 L687.4,1230.1 L682.3,1212.3 L678.4,1202.4 L674.4,1200.0 L672.5,1200.3 L674.5,1198.7 L682.5,1190.2 L698.3,1170.3 L726.8,1133.5 L767.4,1082.6 L813.9,1025.0 L860.1,967.9 L900.0,918.8 L927.4,884.9" fill="none" stroke="#878787" stroke-width="2.1" stroke-linejoin="round"/>
<path d="M838.7,1494.0 L832.2,1475.5 L823.3,1450.0 L812.8,1419.7 L801.3,1387.0 L789.6,1354.4 L778.4,1324.1 L766.5,1294.2 L753.0,1262.4 L739.3,1230.6 L726.8,1200.7 L716.9,1174.6 L710.9,1154.2 L708.6,1141.3 L708.7,1134.6 L711.4,1131.7 L716.8,1130.3 L724.9,1127.8 L736.0,1121.8 L752.6,1111.5 L775.1,1098.7 L800.5,1084.8 L825.4,1071.4 L846.9,1060.0 L861.8,1052.0" fill="none" stroke="#878787" stroke-width="2.1" stroke-linejoin="round"/>
<rect x="247.24" y="828.88" width="890.55" height="593.80" fill="none" stroke="#000" stroke-width="4.3"/>
<rect x="544.09" y="888.26" width="296.85" height="356.28" fill="none" stroke="#ff1010" stroke-width="3.8"/>
<line x1="247.24" y1="769.2" x2="247.24" y2="1481.5" stroke="#808080" stroke-opacity="0.52" stroke-width="1.8" stroke-dasharray="8 3.8"/>
<line x1="395.66" y1="769.2" x2="395.66" y2="1481.5" stroke="#808080" stroke-opacity="0.52" stroke-width="1.8" stroke-dasharray="8 3.8"/>
<line x1="544.09" y1="769.2" x2="544.09" y2="1481.5" stroke="#808080" stroke-opacity="0.52" stroke-width="1.8" stroke-dasharray="8 3.8"/>
<line x1="692.51" y1="769.2" x2="692.51" y2="1481.5" stroke="#808080" stroke-opacity="0.52" stroke-width="1.8" stroke-dasharray="8 3.8"/>
<line x1="840.93" y1="769.2" x2="840.93" y2="1481.5" stroke="#808080" stroke-opacity="0.52" stroke-width="1.8" stroke-dasharray="8 3.8"/>
<line x1="989.36" y1="769.2" x2="989.36" y2="1481.5" stroke="#808080" stroke-opacity="0.52" stroke-width="1.8" stroke-dasharray="8 3.8"/>
<line x1="1137.78" y1="769.2" x2="1137.78" y2="1481.5" stroke="#808080" stroke-opacity="0.52" stroke-width="1.8" stroke-dasharray="8 3.8"/>
<line x1="188.3" y1="1422.68" x2="1197.3" y2="1422.68" stroke="#808080" stroke-opacity="0.52" stroke-width="1.8" stroke-dasharray="8 3.8"/>
<line x1="188.3" y1="1333.61" x2="1197.3" y2="1333.61" stroke="#808080" stroke-opacity="0.52" stroke-width="1.8" stroke-dasharray="8 3.8"/>
<line x1="188.3" y1="1244.54" x2="1197.3" y2="1244.54" stroke="#808080" stroke-opacity="0.52" stroke-width="1.8" stroke-dasharray="8 3.8"/>
<line x1="188.3" y1="1155.47" x2="1197.3" y2="1155.47" stroke="#808080" stroke-opacity="0.52" stroke-width="1.8" stroke-dasharray="8 3.8"/>
<line x1="188.3" y1="1066.40" x2="1197.3" y2="1066.40" stroke="#808080" stroke-opacity="0.52" stroke-width="1.8" stroke-dasharray="8 3.8"/>
<line x1="188.3" y1="977.33" x2="1197.3" y2="977.33" stroke="#808080" stroke-opacity="0.52" stroke-width="1.8" stroke-dasharray="8 3.8"/>
<line x1="188.3" y1="888.26" x2="1197.3" y2="888.26" stroke="#808080" stroke-opacity="0.52" stroke-width="1.8" stroke-dasharray="8 3.8"/>
<line x1="188.3" y1="799.19" x2="1197.3" y2="799.19" stroke="#808080" stroke-opacity="0.52" stroke-width="1.8" stroke-dasharray="8 3.8"/>
<circle cx="803.3" cy="1000.3" r="60" fill="none" stroke="#1f2ff5" stroke-width="2.5"/>
<circle cx="808.4" cy="1083.0" r="60.3" fill="none" stroke="#f7a21a" stroke-width="2.5"/>
<circle cx="798.5" cy="1105.8" r="60" fill="none" stroke="#ee2a2a" stroke-width="2.5"/>
<circle cx="627.8" cy="1099.7" r="59.7" fill="none" stroke="#5a2a9a" stroke-width="2.5"/>
<circle cx="804.9" cy="1001.4" r="12.3" fill="#0000ff"/>
<circle cx="810.0" cy="1082.6" r="12.3" fill="#ffa500"/>
<circle cx="798.6" cy="1107.2" r="12.3" fill="#ff0000"/>
<circle cx="629.2" cy="1101.0" r="12.3" fill="#4b0082"/>
<line x1="628.2" y1="1050" x2="628.2" y2="1090" stroke="#111" stroke-width="1.3"/>
<path d="M628.2,1040.5 L624.2,1050.5 L632.2,1050.5 Z" fill="#111"/>
<path d="M628.2,1099 L623.7,1088 L632.7,1088 Z" fill="#111"/>
<text x="578.05" y="1000.60" font-size="22" font-weight="bold" font-style="normal" fill="#111" textLength="76.78" lengthAdjust="spacingAndGlyphs">150km</text>
<text x="577.99" y="1030.30" font-size="22" font-weight="bold" font-style="normal" fill="#111" textLength="73.42" lengthAdjust="spacingAndGlyphs">radius</text>
<text x="555.63" y="1227.00" font-size="27.5" font-weight="bold" font-style="normal" fill="#c00000" textLength="146.11" lengthAdjust="spacingAndGlyphs">KP domain</text>
<text x="255.08" y="1411.40" font-size="27.5" font-weight="bold" font-style="normal" fill="#111" textLength="145.06" lengthAdjust="spacingAndGlyphs">TC domain</text>
<text x="1061.73" y="879.00" font-size="50.5" font-weight="normal" font-style="normal" fill="#000" textLength="61.55" lengthAdjust="spacingAndGlyphs">(c)</text>
</g>
<rect x="188.3" y="769.2" width="1009.0" height="712.3" fill="none" stroke="#222" stroke-width="2.6"/>
<rect x="208.5" y="790.8" width="331" height="248" rx="8" ry="8" fill="#fff" stroke="#d4d4d4" stroke-width="1.3"/>
<circle cx="264.9" cy="825.9" r="12.6" fill="#ff0000"/>
<text x="336.01" y="837.60" font-size="40" font-weight="normal" font-style="normal" fill="#111" stroke="#111" stroke-width="0.66" textLength="86.06" lengthAdjust="spacingAndGlyphs">Gori</text>
<circle cx="264.9" cy="886.0" r="12.6" fill="#ffa500"/>
<text x="338.11" y="897.70" font-size="40" font-weight="normal" font-style="normal" fill="#111" stroke="#111" stroke-width="0.66" textLength="170.92" lengthAdjust="spacingAndGlyphs">Wolsong</text>
<circle cx="264.9" cy="945.2" r="12.6" fill="#0000ff"/>
<text x="334.48" y="956.30" font-size="40" font-weight="normal" font-style="normal" fill="#111" stroke="#111" stroke-width="0.66" textLength="121.63" lengthAdjust="spacingAndGlyphs">Hanul</text>
<circle cx="264.9" cy="1004.5" r="12.6" fill="#4b0082"/>
<text x="334.42" y="1015.00" font-size="40" font-weight="normal" font-style="normal" fill="#111" stroke="#111" stroke-width="0.66" textLength="136.62" lengthAdjust="spacingAndGlyphs">Hanbit</text>
<text transform="translate(169.60,1463.98) rotate(-90)" x="-1.33" y="0" font-size="33.5" font-weight="normal" fill="#111" stroke="#111" stroke-width="0.6" textLength="77.76" lengthAdjust="spacingAndGlyphs">30°N</text>
<text transform="translate(169.60,1285.84) rotate(-90)" x="-1.33" y="0" font-size="33.5" font-weight="normal" fill="#111" stroke="#111" stroke-width="0.6" textLength="77.76" lengthAdjust="spacingAndGlyphs">33°N</text>
<text transform="translate(169.60,1107.70) rotate(-90)" x="-1.33" y="0" font-size="33.5" font-weight="normal" fill="#111" stroke="#111" stroke-width="0.6" textLength="77.76" lengthAdjust="spacingAndGlyphs">36°N</text>
<text transform="translate(169.60,929.56) rotate(-90)" x="-1.33" y="0" font-size="33.5" font-weight="normal" fill="#111" stroke="#111" stroke-width="0.6" textLength="77.76" lengthAdjust="spacingAndGlyphs">39°N</text>
<text x="199.61" y="1518.80" font-size="33.5" font-weight="normal" font-style="normal" fill="#111" stroke="#111" stroke-width="0.55" textLength="94.10" lengthAdjust="spacingAndGlyphs">120°E</text>
<text x="332.49" y="1518.80" font-size="33.5" font-weight="normal" font-style="normal" fill="#111" stroke="#111" stroke-width="0.55" textLength="125.18" lengthAdjust="spacingAndGlyphs">122.5°E</text>
<text x="496.46" y="1518.80" font-size="33.5" font-weight="normal" font-style="normal" fill="#111" stroke="#111" stroke-width="0.55" textLength="94.10" lengthAdjust="spacingAndGlyphs">125°E</text>
<text x="629.34" y="1518.80" font-size="33.5" font-weight="normal" font-style="normal" fill="#111" stroke="#111" stroke-width="0.55" textLength="125.18" lengthAdjust="spacingAndGlyphs">127.5°E</text>
<text x="793.31" y="1518.80" font-size="33.5" font-weight="normal" font-style="normal" fill="#111" stroke="#111" stroke-width="0.55" textLength="94.10" lengthAdjust="spacingAndGlyphs">130°E</text>
<text x="926.19" y="1518.80" font-size="33.5" font-weight="normal" font-style="normal" fill="#111" stroke="#111" stroke-width="0.55" textLength="125.18" lengthAdjust="spacingAndGlyphs">132.5°E</text>
<text x="1090.16" y="1518.80" font-size="33.5" font-weight="normal" font-style="normal" fill="#111" stroke="#111" stroke-width="0.55" textLength="94.10" lengthAdjust="spacingAndGlyphs">135°E</text>
</g>
</svg>
</body></html>
